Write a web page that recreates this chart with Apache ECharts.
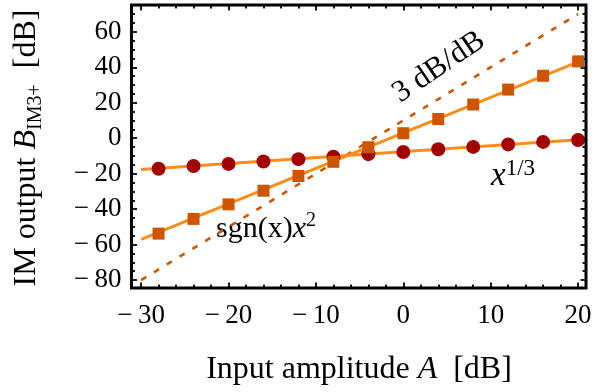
<!DOCTYPE html>
<html>
<head>
<meta charset="utf-8">
<script src="https://cdn.jsdelivr.net/npm/echarts@6/dist/echarts.min.js"></script>
<style>
  html, body { margin: 0; padding: 0; background: #fff; }
  #chart { width: 595px; height: 392px; }
</style>
</head>
<body>
<div id="chart"></div>
<script>
// Input levels (dB) at which the IM3 product was evaluated
const inputLevels = [-28, -24, -20, -16, -12, -8, -4, 0, 4, 8, 12, 16, 20];
// Output of the x^(1/3) nonlinearity (dB)
const cubeRootOutput = [-17.2, -15.7, -14.5, -13.1, -11.8, -10.4, -9.0, -7.8, -6.2, -4.9, -3.5, -2.1, -1.0];
// Output of the sgn(x) x^2 nonlinearity (dB)
const signSquareOutput = [-53.8, -45.5, -37.3, -29.6, -21.3, -13.3, -5.1, 2.8, 10.8, 19.0, 27.4, 35.2, 43.3];
// Fitted straight lines, evaluated at the ends of the input range
const fitInput = [-30, 20];
const cubeRootFit = [-17.6, -0.9];
const signSquareFit = [-57.0, 43.0];
const slope3Reference = [-80, 70];
// Axis ticks
const xTickStep = 10;
const yTickStep = 20;

const FONT = "'Liberation Serif', 'Times New Roman', serif";
const pairs = (xs, ys) => xs.map((x, i) => [x, ys[i]]);
const minusSign = v => (v < 0 ? '\u2212\u2009' + Math.abs(v) : String(v));

const chart = echarts.init(document.getElementById('chart'), null, { renderer: 'canvas' });

const tickStyle = { color: '#000', width: 1.8 };
const baseAxis = {
  type: 'value',
  axisLine: { show: false, onZero: false },
  splitLine: { show: false },
  axisTick: { show: true, inside: true, length: 5.5, lineStyle: tickStyle },
  minorTick: { show: true, length: 3.5, lineStyle: tickStyle },
};

const option = {
  backgroundColor: '#fff',
  animation: false,
  grid: {
    left: 141.1, right: 16.9, top: -3.7, bottom: 111.9,
    containLabel: false, outerBoundsMode: 'none'
  },
  xAxis: [
    Object.assign({}, baseAxis, {
      position: 'bottom', min: -30, max: 20, interval: xTickStep, offset: 7.9,
      minorTick: Object.assign({}, baseAxis.minorTick, { splitNumber: 5 }),
      axisLabel: { show: true, margin: 14, color: '#000', fontFamily: FONT, fontSize: 27, formatter: minusSign }
    }),
    Object.assign({}, baseAxis, {
      position: 'top', min: -30, max: 20, interval: xTickStep, offset: -8.7,
      minorTick: Object.assign({}, baseAxis.minorTick, { splitNumber: 5 }),
      axisLabel: { show: false }
    })
  ],
  yAxis: [
    Object.assign({}, baseAxis, {
      position: 'left', min: -80, max: 80, interval: yTickStep, offset: 9.6,
      minorTick: Object.assign({}, baseAxis.minorTick, { splitNumber: 4 }),
      axisLabel: {
        show: true, margin: 10, color: '#000', fontFamily: FONT, fontSize: 27,
        formatter: v => (v > 60 ? '' : minusSign(v))
      }
    }),
    Object.assign({}, baseAxis, {
      position: 'right', min: -80, max: 80, interval: yTickStep, offset: 7.9,
      minorTick: Object.assign({}, baseAxis.minorTick, { splitNumber: 4 }),
      axisLabel: { show: false }
    })
  ],
  series: [
    {
      type: 'line', data: pairs(fitInput, slope3Reference), symbol: 'none', silent: true,
      lineStyle: { color: '#cc5500', width: 2.6, type: [6, 9] }, z: 1
    },
    {
      type: 'line', data: pairs(fitInput, cubeRootFit), symbol: 'none', silent: true,
      lineStyle: { color: '#ff8c1a', width: 3 }, z: 2
    },
    {
      type: 'line', data: pairs(fitInput, signSquareFit), symbol: 'none', silent: true,
      lineStyle: { color: '#ff8c1a', width: 3 }, z: 2
    },
    {
      type: 'scatter', data: pairs(inputLevels, cubeRootOutput), symbol: 'circle', symbolSize: 14,
      itemStyle: { color: '#a00000', opacity: 1 }, z: 3
    },
    {
      type: 'scatter', data: pairs(inputLevels, signSquareOutput), symbol: 'rect', symbolSize: 12,
      itemStyle: { color: '#cc5500', opacity: 1 }, z: 3
    }
  ],
  graphic: [
    // plot frame
    {
      type: 'rect', z: 10, silent: true,
      shape: { x: 131.5, y: 5, width: 454.5, height: 283 },
      style: { fill: 'none', stroke: '#000', lineWidth: 3 }
    },
    // axis titles
    {
      type: 'text', x: 359, y: 370, silent: true,
      style: {
        text: '{n|Input amplitude }{i|A}{n|  [dB]}',
        align: 'center', verticalAlign: 'middle', textAlign: 'center', textVerticalAlign: 'middle',
        rich: {
          n: { fontFamily: FONT, fontSize: 32, fill: '#000', lineHeight: 38 },
          i: { fontFamily: FONT, fontSize: 32, fontStyle: 'italic', fill: '#000', lineHeight: 38 }
        }
      }
    },
    {
      type: 'text', x: 27, y: 148, rotation: Math.PI / 2, silent: true,
      style: {
        text: '{n|IM output }{i|B}{s|IM3+}{n|  [dB]}',
        align: 'center', verticalAlign: 'middle', textAlign: 'center', textVerticalAlign: 'middle',
        rich: {
          n: { fontFamily: FONT, fontSize: 32, fill: '#000', lineHeight: 38 },
          i: { fontFamily: FONT, fontSize: 32, fontStyle: 'italic', fill: '#000', lineHeight: 38 },
          s: { fontFamily: FONT, fontSize: 20, fill: '#000', lineHeight: 14, verticalAlign: 'bottom' }
        }
      }
    },
    // curve annotations
    {
      type: 'text', x: 439, y: 67, rotation: 34 * Math.PI / 180, silent: true,
      style: {
        text: '3 dB/dB', fontFamily: FONT, fontSize: 31, fill: '#000',
        align: 'center', verticalAlign: 'middle', textAlign: 'center', textVerticalAlign: 'middle'
      }
    },
    {
      type: 'text', x: 491, y: 176, silent: true,
      style: {
        text: '{x|x}{p|1/3}',
        align: 'left', verticalAlign: 'middle', textAlign: 'left', textVerticalAlign: 'middle',
        rich: {
          x: { fontFamily: FONT, fontSize: 33, fontStyle: 'italic', fill: '#000', lineHeight: 38 },
          p: { fontFamily: FONT, fontSize: 23, fill: '#000', lineHeight: 12, verticalAlign: 'top' }
        }
      }
    },
    {
      type: 'text', x: 216, y: 229, silent: true,
      style: {
        text: '{n|sgn(x)}{x|x}{p|2}',
        align: 'left', verticalAlign: 'middle', textAlign: 'left', textVerticalAlign: 'middle',
        rich: {
          n: { fontFamily: FONT, fontSize: 30, fill: '#000', lineHeight: 36 },
          x: { fontFamily: FONT, fontSize: 30, fontStyle: 'italic', fill: '#000', lineHeight: 36 },
          p: { fontFamily: FONT, fontSize: 20, fill: '#000', lineHeight: 16, verticalAlign: 'top' }
        }
      }
    }
  ]
};

chart.setOption(option);
</script>
</body>
</html>
